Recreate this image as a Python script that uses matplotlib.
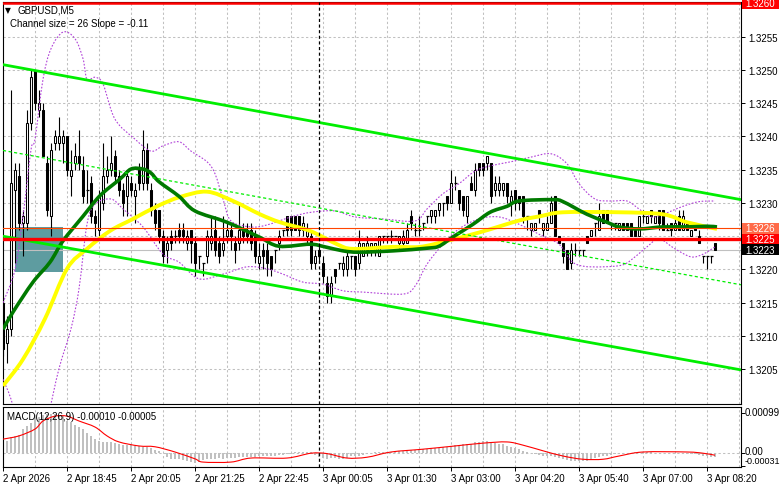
import numpy as np
import matplotlib
matplotlib.use("Agg")
import matplotlib.pyplot as plt
from matplotlib.patches import Rectangle, PathPatch
from matplotlib.path import Path

# ---------------- data ----------------
opens = [1.3215, 1.3209, 1.3211, 1.3232, 1.3234, 1.3227, 1.3227, 1.3242, 1.3250, 1.3244,
         1.3244, 1.3236, 1.3228, 1.3239, 1.3239, 1.3239, 1.3240, 1.3234, 1.3236, 1.3237,
         1.3235, 1.3232, 1.3233, 1.3228, 1.3226, 1.3230, 1.3234, 1.3235, 1.3237, 1.3234,
         1.3232, 1.3231, 1.3233, 1.3231, 1.3235, 1.3233, 1.3238, 1.3232, 1.3229, 1.3229,
         1.3225, 1.3223, 1.3225, 1.3225, 1.3226, 1.3226, 1.3224, 1.3226, 1.3224, 1.3222,
         1.3221, 1.3222, 1.3224, 1.3226, 1.3224, 1.3223, 1.3225, 1.3226, 1.3224, 1.3224,
         1.3226, 1.3226, 1.3226, 1.3225, 1.3221, 1.3223, 1.3223, 1.3222, 1.3223, 1.3224,
         1.3226, 1.3228, 1.3228, 1.3228, 1.3228, 1.3226, 1.3225, 1.3225, 1.3221, 1.3223,
         1.3221, 1.3218, 1.3216, 1.3220, 1.3221, 1.3220, 1.3220, 1.3222, 1.3222, 1.3221,
         1.3222, 1.3223, 1.3223, 1.3223, 1.3222, 1.3225, 1.3225, 1.3225, 1.3225, 1.3224,
         1.3224, 1.3224, 1.3228, 1.3226, 1.3226, 1.3227, 1.3228, 1.3228, 1.3228, 1.3229,
         1.3230, 1.3231, 1.3230, 1.3233, 1.3232, 1.3231, 1.3228, 1.3233, 1.3232, 1.3236,
         1.3236, 1.3236, 1.3236, 1.3232, 1.3232, 1.3232, 1.3233, 1.3230, 1.3232, 1.3231,
         1.3231, 1.3228, 1.3226, 1.3226, 1.3229, 1.3226, 1.3226, 1.3227, 1.3231, 1.3225,
         1.3224, 1.3223, 1.3221, 1.3223, 1.3223, 1.3223, 1.3225, 1.3225, 1.3227, 1.3226,
         1.3229, 1.3229, 1.3227, 1.3227, 1.3226, 1.3227, 1.3227, 1.3227, 1.3226, 1.3225,
         1.3228, 1.3227, 1.3229, 1.3227, 1.3229, 1.3229, 1.3226, 1.3227, 1.3226, 1.3228,
         1.3226, 1.3227, 1.3225, 1.3227, 1.3225, 1.3222, 1.3222, 1.3222, 1.3224]
highs = [1.3216, 1.3213, 1.3247, 1.3236, 1.3236, 1.3229, 1.3244, 1.3250, 1.3250, 1.3247,
         1.3245, 1.3237, 1.3239, 1.3241, 1.3243, 1.3241, 1.3240, 1.3238, 1.3239, 1.3241,
         1.3237, 1.3235, 1.3234, 1.3229, 1.3232, 1.3239, 1.3237, 1.3240, 1.3238, 1.3235,
         1.3233, 1.3235, 1.3234, 1.3233, 1.3236, 1.3241, 1.3239, 1.3233, 1.3230, 1.3229,
         1.3226, 1.3225, 1.3226, 1.3226, 1.3227, 1.3227, 1.3226, 1.3226, 1.3225, 1.3222,
         1.3221, 1.3226, 1.3228, 1.3228, 1.3225, 1.3228, 1.3227, 1.3227, 1.3225, 1.3230,
         1.3227, 1.3227, 1.3227, 1.3226, 1.3224, 1.3224, 1.3224, 1.3222, 1.3223, 1.3226,
         1.3226, 1.3228, 1.3228, 1.3228, 1.3228, 1.3228, 1.3227, 1.3226, 1.3223, 1.3224,
         1.3222, 1.3219, 1.3219, 1.3220, 1.3221, 1.3222, 1.3223, 1.3222, 1.3222, 1.3226,
         1.3224, 1.3225, 1.3224, 1.3224, 1.3225, 1.3225, 1.3225, 1.3226, 1.3225, 1.3225,
         1.3226, 1.3227, 1.3229, 1.3227, 1.3228, 1.3227, 1.3228, 1.3229, 1.3229, 1.3230,
         1.3230, 1.3231, 1.3235, 1.3234, 1.3232, 1.3231, 1.3231, 1.3234, 1.3236, 1.3236,
         1.3236, 1.3237, 1.3236, 1.3234, 1.3234, 1.3233, 1.3233, 1.3232, 1.3232, 1.3231,
         1.3231, 1.3228, 1.3227, 1.3227, 1.3229, 1.3227, 1.3228, 1.3231, 1.3231, 1.3225,
         1.3224, 1.3223, 1.3224, 1.3224, 1.3223, 1.3223, 1.3225, 1.3226, 1.3227, 1.3230,
         1.3229, 1.3229, 1.3227, 1.3227, 1.3227, 1.3227, 1.3227, 1.3227, 1.3226, 1.3228,
         1.3229, 1.3228, 1.3229, 1.3228, 1.3229, 1.3229, 1.3227, 1.3227, 1.3228, 1.3229,
         1.3229, 1.3227, 1.3226, 1.3227, 1.3226, 1.3222, 1.3222, 1.3222, 1.3224]
lows = [1.3207, 1.3206, 1.3210, 1.3221, 1.3226, 1.3222, 1.3226, 1.3241, 1.3244, 1.3243,
        1.3237, 1.3228, 1.3225, 1.3238, 1.3238, 1.3236, 1.3234, 1.3231, 1.3235, 1.3235,
        1.3230, 1.3230, 1.3227, 1.3225, 1.3225, 1.3229, 1.3233, 1.3234, 1.3233, 1.3231,
        1.3228, 1.3228, 1.3231, 1.3227, 1.3232, 1.3232, 1.3232, 1.3228, 1.3226, 1.3224,
        1.3221, 1.3221, 1.3223, 1.3224, 1.3224, 1.3224, 1.3223, 1.3221, 1.3219, 1.3220,
        1.3219, 1.3221, 1.3223, 1.3222, 1.3221, 1.3222, 1.3224, 1.3223, 1.3221, 1.3223,
        1.3224, 1.3224, 1.3223, 1.3221, 1.3220, 1.3220, 1.3219, 1.3219, 1.3221, 1.3223,
        1.3225, 1.3225, 1.3225, 1.3226, 1.3225, 1.3225, 1.3224, 1.3220, 1.3220, 1.3221,
        1.3218, 1.3215, 1.3215, 1.3218, 1.3220, 1.3219, 1.3219, 1.3220, 1.3219, 1.3220,
        1.3222, 1.3222, 1.3222, 1.3222, 1.3222, 1.3224, 1.3224, 1.3224, 1.3225, 1.3223,
        1.3223, 1.3224, 1.3226, 1.3225, 1.3225, 1.3226, 1.3227, 1.3227, 1.3227, 1.3228,
        1.3228, 1.3229, 1.3230, 1.3232, 1.3229, 1.3228, 1.3227, 1.3232, 1.3231, 1.3234,
        1.3234, 1.3235, 1.3230, 1.3231, 1.3231, 1.3231, 1.3230, 1.3228, 1.3229, 1.3229,
        1.3227, 1.3226, 1.3225, 1.3226, 1.3227, 1.3225, 1.3226, 1.3227, 1.3225, 1.3224,
        1.3221, 1.3220, 1.3220, 1.3222, 1.3222, 1.3222, 1.3224, 1.3225, 1.3225, 1.3226,
        1.3227, 1.3227, 1.3226, 1.3226, 1.3226, 1.3226, 1.3226, 1.3225, 1.3225, 1.3225,
        1.3227, 1.3227, 1.3227, 1.3227, 1.3226, 1.3226, 1.3226, 1.3225, 1.3226, 1.3226,
        1.3226, 1.3226, 1.3225, 1.3226, 1.3224, 1.3221, 1.3220, 1.3221, 1.3223]
closes = [1.3208, 1.3211, 1.3233, 1.3235, 1.3227, 1.3228, 1.3242, 1.3249, 1.3245, 1.3245,
          1.3237, 1.3229, 1.3238, 1.3240, 1.3240, 1.3240, 1.3235, 1.3235, 1.3237, 1.3236,
          1.3231, 1.3232, 1.3228, 1.3227, 1.3231, 1.3234, 1.3235, 1.3236, 1.3234, 1.3232,
          1.3230, 1.3234, 1.3232, 1.3232, 1.3233, 1.3238, 1.3233, 1.3229, 1.3227, 1.3225,
          1.3222, 1.3224, 1.3224, 1.3225, 1.3225, 1.3225, 1.3225, 1.3224, 1.3221, 1.3222,
          1.3221, 1.3225, 1.3225, 1.3223, 1.3222, 1.3224, 1.3226, 1.3225, 1.3223, 1.3226,
          1.3225, 1.3225, 1.3224, 1.3222, 1.3222, 1.3222, 1.3221, 1.3220, 1.3223, 1.3225,
          1.3226, 1.3226, 1.3226, 1.3226, 1.3226, 1.3227, 1.3226, 1.3221, 1.3222, 1.3222,
          1.3219, 1.3216, 1.3218, 1.3219, 1.3221, 1.3221, 1.3222, 1.3222, 1.3220, 1.3224,
          1.3224, 1.3224, 1.3224, 1.3224, 1.3225, 1.3225, 1.3225, 1.3225, 1.3225, 1.3225,
          1.3225, 1.3226, 1.3227, 1.3226, 1.3226, 1.3227, 1.3228, 1.3229, 1.3229, 1.3230,
          1.3230, 1.3230, 1.3233, 1.3233, 1.3230, 1.3229, 1.3231, 1.3232, 1.3235, 1.3235,
          1.3235, 1.3237, 1.3231, 1.3233, 1.3233, 1.3233, 1.3231, 1.3231, 1.3230, 1.3230,
          1.3228, 1.3228, 1.3227, 1.3227, 1.3228, 1.3227, 1.3227, 1.3230, 1.3225, 1.3224,
          1.3222, 1.3220, 1.3223, 1.3223, 1.3223, 1.3223, 1.3224, 1.3226, 1.3227, 1.3228,
          1.3227, 1.3227, 1.3227, 1.3227, 1.3227, 1.3226, 1.3226, 1.3225, 1.3225, 1.3228,
          1.3228, 1.3228, 1.3228, 1.3228, 1.3227, 1.3226, 1.3226, 1.3226, 1.3227, 1.3226,
          1.3228, 1.3226, 1.3226, 1.3226, 1.3224, 1.3222, 1.3222, 1.3222, 1.3223]

# moving averages (bar index, price)
ma_green_x = [0, 2.5, 7.5, 11.75, 15, 20, 24.25, 29.25, 32, 35, 37, 39, 44, 48, 56, 64,
              69, 76.75, 80.5, 85, 89, 97.5, 106, 109, 112.5, 117.5, 121.75, 126, 129,
              137.5, 140, 146, 151, 154, 159, 165, 171, 176, 178.5]
ma_green_y = [1.3211, 1.32136, 1.32181, 1.32211, 1.32243, 1.3228, 1.32311, 1.32336, 1.32351,
              1.32351, 1.32345, 1.32332, 1.3231, 1.32288, 1.32271, 1.32249, 1.32235, 1.32238,
              1.32234, 1.32228, 1.32226, 1.32228, 1.32232, 1.32235, 1.32249, 1.32268, 1.32286,
              1.32295, 1.32303, 1.32305, 1.32302, 1.32283, 1.32271, 1.32264, 1.32261, 1.32264,
              1.32264, 1.32265, 1.32264]
ma_yellow_x = [0, 5, 10.5, 16, 21, 26.75, 32.5, 38.5, 44.25, 51, 57.5, 64.25, 69.25, 76.75,
               83.5, 87.5, 97.5, 104.25, 111, 119.25, 129.25, 134.25, 140, 154.25, 165, 171,
               178.5]
ma_yellow_y = [1.32025, 1.32065, 1.32126, 1.32201, 1.32231, 1.32258, 1.32276, 1.32295, 1.32309,
               1.32317, 1.32303, 1.32283, 1.32271, 1.32258, 1.32238, 1.32231, 1.32234, 1.32234,
               1.32243, 1.32256, 1.32274, 1.3228, 1.32286, 1.32286, 1.32283, 1.32271, 1.32261]

# Bollinger bands (bar index, price)
bb_up_x = [0, 3, 5, 7, 8, 10, 12, 15, 18, 20, 21, 23, 25, 28, 33, 37, 40, 44, 47, 51, 53, 55,
           57, 62, 66, 72, 77, 83, 88, 95, 103, 106, 110, 114, 118, 122, 127, 132, 137, 141,
           144, 148, 152, 156, 159, 162, 165, 170, 174, 178]
bb_up_y = [1.3215, 1.3220, 1.3228, 1.3238, 1.32396, 1.32486, 1.32532, 1.32557, 1.32547, 1.32517,
           1.32486, 1.32489, 1.32479, 1.32426, 1.32396, 1.32378, 1.32386, 1.32392, 1.32378,
           1.32362, 1.32344, 1.32306, 1.32273, 1.32264, 1.32267, 1.32279, 1.32286, 1.32288,
           1.32279, 1.32276, 1.32273, 1.32291, 1.32314, 1.32329, 1.32348, 1.32356, 1.32362,
           1.32369, 1.32374, 1.32359, 1.32329, 1.32306, 1.32303, 1.32303, 1.32291, 1.32279,
           1.32283, 1.32295, 1.32302, 1.32303]
bb_lo_x = [0, 2, 5, 8, 11, 14, 17, 19, 21, 23, 27, 30, 35, 40, 44, 49, 55, 61, 66, 70, 75, 80,
           85, 90, 100, 103, 106, 110, 114, 119, 124, 129, 134, 139, 142, 145, 150, 155, 158,
           161, 164, 168, 172, 175, 178]
bb_lo_y = [1.32035, 1.32005, 1.31945, 1.31938, 1.31975, 1.32051, 1.32111, 1.32171, 1.32268,
           1.32298, 1.32306, 1.32291, 1.32264, 1.32223, 1.32211, 1.32186, 1.32193, 1.32204,
           1.32201, 1.32193, 1.32181, 1.32178, 1.32168, 1.32166, 1.32163, 1.32175, 1.32208,
           1.32238, 1.32261, 1.32276, 1.32279, 1.32268, 1.32253, 1.32238, 1.32213, 1.32205,
           1.32204, 1.32207, 1.32219, 1.32234, 1.32246, 1.32231, 1.32219, 1.32223, 1.32234]

# regression channel (start bar, end bar) and prices
chan_x = [0, 184.5]
chan_upper = [1.32508, 1.32305]
chan_mid = [1.32379, 1.32177]
chan_lower = [1.32250, 1.32049]

# zone rectangle: bars and prices
zone_bars = [3, 15]
zone_prices = [1.32196, 1.32264]

# horizontal levels
level_top = 1.3260
level_orange = 1.32262
level_red = 1.32246
level_bid = 1.32230

price_ticks = [1.3205, 1.3210, 1.3215, 1.3220, 1.3230, 1.3235, 1.3240, 1.3245, 1.3250, 1.3255]

# MACD histogram and signal
macd_hist = [0.00025, 0.0003, 0.0004, 0.00043, 0.00045, 0.0006, 0.00068, 0.00075, 0.0009, 0.0009,
             0.00095, 0.00097, 0.00098, 0.00097, 0.00096, 0.00093, 0.0008, 0.00077, 0.0007, 0.00065,
             0.0006, 0.0005, 0.00042, 0.00035, 0.0003, 0.00028, 0.00027, 0.00027, 0.00025, 0.00022,
             0.0002, 0.0002, 0.0002, 0.00018, 0.00017, 0.00016, 0.00016, 0.00012, 0.00008, 0.00006,
             0.0, -0.0001, -0.00014, -0.00014, -0.00015, -0.00018, -0.0002, -0.00022, -0.00024, -0.00023,
             -0.00016, -0.00015, -0.00014, -0.00014, -0.00013, -0.00014, -0.00013, -0.00012, -0.00011, -0.0001,
             -0.0001, -0.00009, -0.0001, -0.00009, -0.00008, -0.00008, -0.00007, -0.00006, -0.00006, -0.00005,
             -0.00004, -0.00003, -0.00001, 0.00002, 0.00003, 0.00004, 0.00004, 0.00003, -0.00005, -0.0001,
             -0.00012, -0.00014, -0.00012, -0.00013, -0.00014, -0.00014, -0.00012, -0.00008, -0.00007, -0.00006,
             -0.00004, -0.00002, 0.0, 0.00002, 0.00003, 0.00003, 0.00004, 0.00004, 0.00005, 0.00005,
             0.00006, 0.00006, 0.00007, 0.00008, 0.00009, 0.0001, 0.00011, 0.00012, 0.00013, 0.00014,
             0.00015, 0.00016, 0.00018, 0.0002, 0.00021, 0.00022, 0.00022, 0.00024, 0.00027, 0.00029,
             0.0003, 0.0003, 0.00028, 0.00026, 0.00024, 0.00022, 0.00018, 0.00015, 0.00012, 0.0001,
             0.00006, 0.00003, 0.0, -0.00002, -0.00004, -0.00006, -0.00006, -0.00008, -0.0001, -0.00013,
             -0.00015, -0.00017, -0.00019, -0.0002, -0.0002, -0.0002, -0.00019, -0.00016, -0.00012, -0.0001,
             -0.00008, -0.00006, -0.00004, -0.00003, -0.00002, -0.00001, 0.0, 0.00001, 0.00002, 0.00002,
             0.00002, 0.00002, 0.00002, 0.00001, 0.00001, 0.00001, 0.00001, 0.0, 0.0, 0.0,
             0.0, -0.00001, -0.00002, -0.00003, -0.00005, -0.00007, -0.00008, -0.0001, -0.0001]
macd_sig_x = [0, 4, 8, 10, 13, 16, 19, 23, 26, 29, 34, 38, 43, 48, 50, 57, 62, 71, 77, 81, 86,
              91, 97, 105, 113, 120, 126, 130, 135, 140, 145, 150, 154, 160, 171, 175, 178]
macd_sig_y = [0.00035, 0.00043, 0.0006, 0.0008, 0.00092, 0.00092, 0.0008, 0.00065, 0.00043,
              0.00028, 0.00018, 0.00016, 0.00003, -0.00014, -0.00022, -0.00022, -0.00012,
              -0.00012, 0.0, -0.00001, -0.00012, -0.0001, 0.00003, 0.0001, 0.00018, 0.00025,
              0.00028, 0.0002, 0.00006, -0.00007, -0.00015, -0.00015, -0.00007, 0.00003,
              0.00003, 0.0, -0.00005]
macd_ticks = [0.00099, 0.0, -0.00031]
macd_tick_labels = ["0.00099", "0.00", "-0.00031"]

time_labels = ["2 Apr 2026", "2 Apr 18:45", "2 Apr 20:05", "2 Apr 21:25", "2 Apr 22:45",
               "3 Apr 00:05", "3 Apr 01:30", "3 Apr 03:00", "3 Apr 04:20", "3 Apr 05:40",
               "3 Apr 07:00", "3 Apr 08:20"]
time_label_bars = [0, 16, 32, 48, 64, 80, 96, 112, 128, 144, 160, 176]
day_sep_bar = 79

# ---------------- drawing ----------------
W, H, DPI = 781, 489, 100
FONT = ["Liberation Sans", "DejaVu Sans"]
plt.rcParams["font.family"] = FONT

fig = plt.figure(figsize=(W / DPI, H / DPI), dpi=DPI)
fig.patch.set_facecolor("white")

L, R = 2.5, 741.0
ax = fig.add_axes([L / W, 1 - 405 / H, (R - L) / W, (405 - 2.5) / H])
axm = fig.add_axes([L / W, 1 - 467.5 / H, (R - L) / W, (467.5 - 407.5) / H])

XMIN, XMAX = -0.125, 184.5
YMIN, YMAX = 1.319977, 1.32603
ax.set_xlim(XMIN, XMAX)
ax.set_ylim(YMIN, YMAX)
axm.set_xlim(XMIN, XMAX)
axm.set_ylim(-0.00033, 0.00116)


def smooth_curve(a, xs, ys, **kw):
    """Draw a smooth (Catmull-Rom as cubic Bezier) curve through the given points."""
    pts = np.column_stack([xs, ys]).astype(float)
    verts = [pts[0]]
    codes = [Path.MOVETO]
    m = len(pts)
    for i in range(m - 1):
        p0 = pts[i - 1] if i > 0 else pts[i]
        p1 = pts[i]
        p2 = pts[i + 1]
        p3 = pts[i + 2] if i + 2 < m else pts[i + 1]
        c1 = p1 + (p2 - p0) / 6.0
        c2 = p2 - (p3 - p1) / 6.0
        verts += [c1, c2, p2]
        codes += [Path.CURVE4] * 3
    patch = PathPatch(Path(verts, codes), fill=False, **kw)
    a.add_patch(patch)
    return patch


grid_kw = dict(color="#c0c0c0", lw=0.75, ls=(0, (2.2, 2.2)), zorder=0.5)
for a in (ax, axm):
    for s in a.spines.values():
        s.set_linewidth(0.8)
        s.set_color("black")
    for b in range(8, 185, 8):
        a.axvline(b, **grid_kw)
    a.axvline(day_sep_bar, color="black", lw=0.9, ls=(0, (2.5, 2.0)), zorder=7)

for p in np.arange(1.3205, 1.32601, 0.0005):
    ax.axhline(p, **grid_kw)
axm.axhline(0.0, **grid_kw)

# zone rectangle
ax.add_patch(Rectangle((zone_bars[0], zone_prices[0]), zone_bars[1] - zone_bars[0],
                       zone_prices[1] - zone_prices[0], facecolor="#5e9ca0",
                       edgecolor="none", zorder=1))

# candles
n = len(closes)
bw = 0.55
for i in range(n):
    o, h, l, c = opens[i], highs[i], lows[i], closes[i]
    ax.vlines(i, l, h, color="black", lw=0.8, zorder=3)
    if abs(c - o) < 0.00003:
        ax.hlines(o, i - bw / 2 - 0.1, i + bw / 2 + 0.1, color="black", lw=0.9, zorder=3.1)
    else:
        fc = "white" if c > o else "black"
        ax.add_patch(Rectangle((i - bw / 2, min(o, c)), bw, abs(c - o), facecolor=fc,
                               edgecolor="black", lw=0.75, zorder=3.1))

# indicators
smooth_curve(ax, bb_up_x, bb_up_y, edgecolor="#b040d8", lw=0.8, ls=(0, (1.5, 1.5)), zorder=4)
smooth_curve(ax, bb_lo_x, bb_lo_y, edgecolor="#b040d8", lw=0.8, ls=(0, (1.5, 1.5)), zorder=4)
smooth_curve(ax, ma_yellow_x, ma_yellow_y, edgecolor="#ffff00", lw=2.8, zorder=5,
             capstyle="butt")
smooth_curve(ax, ma_green_x, ma_green_y, edgecolor="#007a00", lw=2.6, zorder=5.1,
             capstyle="butt")

# channel
ax.plot(chan_x, chan_upper, color="#00ee00", lw=2.0, zorder=6)
ax.plot(chan_x, chan_lower, color="#00ee00", lw=2.0, zorder=6)
ax.plot(chan_x, chan_mid, color="#00ee00", lw=0.9, ls=(0, (2.5, 2.0)), zorder=6)

# horizontal lines
ax.axhline(level_top, color="#ff0000", lw=1.8, zorder=6)
ax.axhline(level_orange, color="#ff4500", lw=0.8, zorder=6)
ax.axhline(level_red, color="#ff0000", lw=2.4, zorder=6)
ax.axhline(level_bid, color="#c0c0c0", lw=0.8, zorder=2)

# right price axis
ax.yaxis.tick_right()
ax.set_yticks(price_ticks)
ax.set_yticklabels(["%.4f" % p for p in price_ticks])
ax.tick_params(axis="y", direction="out", length=3, width=0.7, pad=2, labelsize=7,
               colors="black")
ax.set_xticks([])

# price label boxes
ytr = ax.get_yaxis_transform()
bx0 = (742 - L) / (R - L)
bx1 = (779 - L) / (R - L)
tx = (745.5 - L) / (R - L)
half = 5.3 * (YMAX - YMIN) / (405 - 2.5)
for p, col in [(level_top, "#ff0000"), (level_orange, "#ff6a48"),
               (level_red, "#ff0000"), (level_bid, "#000000")]:
    ax.add_patch(Rectangle((bx0, p - half), bx1 - bx0, 2 * half, transform=ytr,
                           facecolor=col, edgecolor="none", clip_on=False, zorder=10))
    ax.text(tx, p, "%.4f" % p, transform=ytr, color="white", fontsize=7,
            va="center", ha="left", clip_on=False, zorder=11)

# MACD panel
axm.bar(np.arange(len(macd_hist)), macd_hist, width=0.55, color="#c0c0c0", zorder=2)
smooth_curve(axm, macd_sig_x, macd_sig_y, edgecolor="#ff0000", lw=0.8, zorder=3)
axm.yaxis.tick_right()
axm.set_yticks(macd_ticks)
axm.set_yticklabels([])
axm.tick_params(axis="y", direction="out", length=3, width=0.7)
axm.set_xticks(time_label_bars)
axm.set_xticklabels(time_labels)
axm.tick_params(axis="x", direction="out", length=3, width=0.7, pad=1.5, labelsize=7)
for lbl in axm.get_xticklabels():
    lbl.set_horizontalalignment("left")

for txt, ypx, fs in zip(macd_tick_labels, [413.5, 452.5, 462.0], [7, 7, 6.5]):
    fig.text(745.0 / W, 1 - ypx / H, txt, fontsize=fs, va="center", ha="left")

# header texts
fig.text(5 / W, 1 - 10.5 / H, "\u25bc", fontsize=5.5, va="center", ha="left",
         family=["DejaVu Sans"])
fig.text(17 / W, 1 - 10.5 / H, "GBPUSD,M5", fontsize=7, va="center", ha="left")
fig.text(10 / W, 1 - 24 / H, "Channel size = 26 Slope = -0.11", fontsize=7,
         va="center", ha="left")
fig.text(7 / W, 1 - 417 / H, "MACD(12,26,9) -0.00010 -0.00005", fontsize=7,
         va="center", ha="left")

fig.savefig("out.png", dpi=DPI, facecolor="white")
